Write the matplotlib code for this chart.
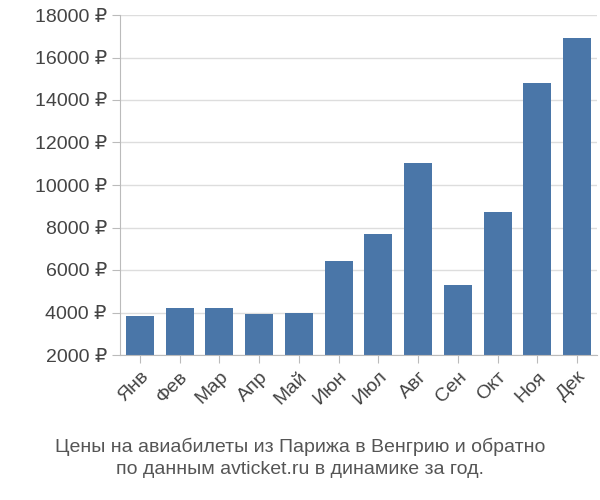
import matplotlib
matplotlib.use("Agg")
import matplotlib.pyplot as plt

months = ["Янв","Фев","Мар","Апр","Май","Июн","Июл","Авг","Сен","Окт","Ноя","Дек"]
prices = [3835, 4210, 4210, 3930, 3975, 6420, 7690, 11030, 5290, 8730, 14800, 16920]
yticks = list(range(2000, 18001, 2000))

plt.rcParams['font.family'] = ['Liberation Sans', 'DejaVu Sans']
fig = plt.figure(figsize=(6, 5), dpi=100)
ax = fig.add_axes([0.2, 0.29, 0.795, 0.68])
ax.bar(range(len(months)), prices, width=0.7, color="#4a76a8", bottom=0,zorder=2)
ax.set_ylim(2000, 18000)
ax.set_xlim(-0.5, len(months) - 0.5)
ax.set_yticks(yticks)
ax.set_yticklabels([f"{v} ₽" for v in yticks], fontsize=14, color="#444444")
ax.set_xticks(range(len(months)))
ax.set_xticklabels(months, rotation=45, ha="right", rotation_mode="anchor", fontsize=14, color="#444444")
ax.grid(axis="y", color="#dddddd", linewidth=1, zorder=0)
for s in ["top", "right"]:
    ax.spines[s].set_visible(False)
ax.spines["left"].set_color("#bbbbbb")
ax.spines["bottom"].set_color("#bbbbbb")
ax.tick_params(axis="both", length=6, color="#bbbbbb")
fig.text(0.5, 0.085, "Цены на авиабилеты из Парижа в Венгрию и обратно\nпо данным avticket.ru в динамике за год.",
         ha="center", va="center", fontsize=14, color="#555555", linespacing=1.4)
fig.savefig("out.png")
